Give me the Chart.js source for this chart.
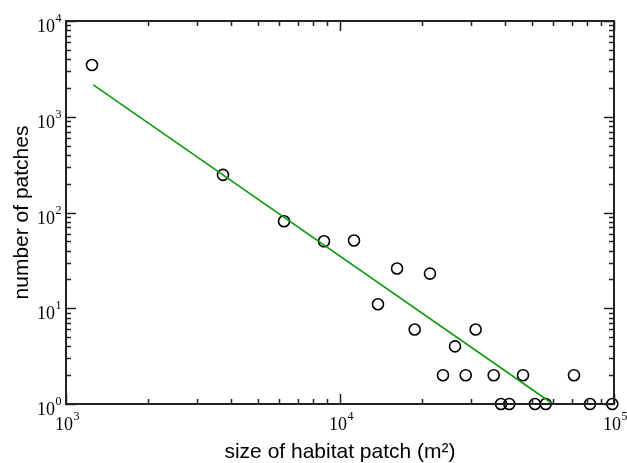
<!DOCTYPE html>
<html>
<head>
<meta charset="utf-8">
<title>patch size distribution</title>
<script src="https://cdn.jsdelivr.net/npm/chart.js@4.4.1/dist/chart.umd.min.js"></script>
<style>
  html, body { margin: 0; padding: 0; background: #fff; }
  canvas { display: block; }
</style>
</head>
<body>
<canvas id="myChart" width="627" height="463"></canvas>
<script>
// observed patches: size (m^2) and how many patches of that size
var patchSize = [1244, 3741, 6248, 8742, 11250, 13760, 16150, 18730, 21300, 23760, 26290,
                 28760, 31270, 36390, 38690, 41480, 46550, 51480, 56330, 71450, 81730, 98580];
var patchCount = [3470, 247, 81, 50, 51, 11, 26, 6, 23, 2, 4,
                  2, 6, 2, 1, 1, 2, 1, 1, 2, 1, 1];

// power law fit, end points
var fitSize = [1258, 59860];
var fitCount = [2148, 1];

// decade ticks
var xTicks = [1e3, 1e4, 1e5];
var yTicks = [1e0, 1e1, 1e2, 1e3, 1e4];

var serif = '"Liberation Serif", "Times New Roman", serif';

function toPoints(xs, ys) {
	return xs.map(function(x, i) { return {x: x, y: ys[i]}; });
}

// "10" with a raised exponent; anchor is 'center' (x axis) or 'right' (y axis)
function drawPow(ctx, v, x, baseline, anchor) {
	var exp = String(Math.round(Math.log10(v)));
	ctx.font = '18px ' + serif;
	var wBase = ctx.measureText('10').width;
	ctx.font = '12px ' + serif;
	var wExp = ctx.measureText(exp).width;
	var left = anchor === 'right' ? x - wBase - wExp : x - (wBase + wExp) / 2;
	ctx.font = '18px ' + serif;
	ctx.fillText('10', left, baseline);
	ctx.font = '12px ' + serif;
	ctx.fillText(exp, left + wBase + 0.5, baseline - 10);
}

// box round the plot, inward major/minor ticks on every side, decade labels
var frameTicks = {
	id: 'frameTicks',
	afterDatasetsDraw: function(chart) {
		var ctx = chart.ctx;
		var a = chart.chartArea;
		var xs = chart.scales.x, ys = chart.scales.y;
		ctx.save();
		ctx.strokeStyle = '#222';
		ctx.lineWidth = 1.5;
		ctx.beginPath();
		function decadeMarks(lo, hi, fn) {
			for (var d = lo; d < hi; d *= 10) {
				for (var m = 1; m <= 9; m++) fn(d * m, m === 1);
			}
			fn(hi, true);
		}
		decadeMarks(1e3, 1e5, function(v, major) {
			var px = Math.round(xs.getPixelForValue(v)) + 0.5;
			var len = major ? 10 : 5;
			ctx.moveTo(px, a.bottom); ctx.lineTo(px, a.bottom - len);
			ctx.moveTo(px, a.top); ctx.lineTo(px, a.top + len);
		});
		decadeMarks(1, 1e4, function(v, major) {
			var py = Math.round(ys.getPixelForValue(v)) + 0.5;
			var len = major ? 10 : 5;
			ctx.moveTo(a.left, py); ctx.lineTo(a.left + len, py);
			ctx.moveTo(a.right, py); ctx.lineTo(a.right - len, py);
		});
		ctx.stroke();
		ctx.lineWidth = 2;
		ctx.strokeRect(a.left, a.top, a.right - a.left, a.bottom - a.top);

		ctx.fillStyle = '#000';
		ctx.textBaseline = 'alphabetic';
		ctx.textAlign = 'left';
		xTicks.forEach(function(v) {
			drawPow(ctx, v, xs.getPixelForValue(v) + 1, a.bottom + 26, 'center');
		});
		yTicks.forEach(function(v) {
			drawPow(ctx, v, a.left - 5, ys.getPixelForValue(v) + 11, 'right');
		});
		ctx.restore();
	}
};

var ctx = document.getElementById('myChart').getContext('2d');
var myChart = new Chart(ctx, {
	type: 'scatter',
	data: {
		datasets: [{
			type: 'line',
			label: 'fit',
			data: toPoints(fitSize, fitCount),
			borderColor: '#0f9a0f',
			borderWidth: 1.6,
			pointRadius: 0,
			fill: false,
			clip: false
		}, {
			label: 'patches',
			data: toPoints(patchSize, patchCount),
			pointStyle: 'circle',
			pointRadius: 5.5,
			pointHoverRadius: 5.5,
			borderColor: '#000',
			borderWidth: 1.6,
			backgroundColor: 'rgba(0,0,0,0)',
			clip: false
		}]
	},
	options: {
		responsive: false,
		animation: false,
		devicePixelRatio: 1,
		layout: { padding: { top: 21, right: 13, left: 0, bottom: 0 } },
		plugins: { legend: { display: false }, tooltip: { enabled: false } },
		events: [],
		scales: {
			x: {
				type: 'logarithmic',
				min: 1e3,
				max: 1e5,
				grid: { display: false, drawTicks: false },
				border: { display: false },
				afterBuildTicks: function(scale) {
					scale.ticks = xTicks.map(function(v) { return {value: v}; });
				},
				afterFit: function(scale) { scale.height = 59; },
				ticks: { display: false },
				title: {
					display: true,
					text: 'size of habitat patch (m\u00b2)',
					color: '#000',
					padding: 0,
					font: { family: '"Liberation Sans", Arial, Helvetica, sans-serif', size: 21, lineHeight: 1.0 }
				}
			},
			y: {
				type: 'logarithmic',
				min: 1,
				max: 1e4,
				grid: { display: false, drawTicks: false },
				border: { display: false },
				afterBuildTicks: function(scale) {
					scale.ticks = yTicks.map(function(v) { return {value: v}; });
				},
				afterFit: function(scale) { scale.width = 66; },
				ticks: { display: false },
				title: {
					display: true,
					text: 'number of patches',
					color: '#000',
					padding: { top: 10, bottom: 0 },
					font: { family: '"Liberation Sans", Arial, Helvetica, sans-serif', size: 21, lineHeight: 1.2 }
				}
			}
		}
	},
	plugins: [frameTicks]
});
</script>
</body>
</html>
